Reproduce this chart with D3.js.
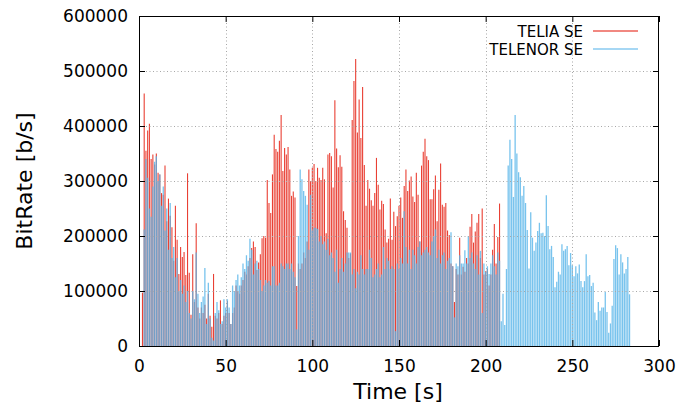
<!DOCTYPE html>
<html>
<head>
	<script src="https://d3js.org/d3.v7.min.js"></script>
	<style>
		body { margin: 0; background: #fff; }
		text { font-family: "DejaVu Sans", sans-serif; fill: #000; }
	</style>
</head>
<body>
	<script type="text/javascript">

		// bitrate samples, one per second, in kb/s (scaled to b/s below)
		var teliaStart = 2;
		var teliaSE = [97,459,355,392,404,340,348,330,350,315,312,278,275,328,227,268,237,216,155,255,
			193,131,180,162,171,129,314,133,57,167,80,223,70,50,70,60,75,50,95,55,
			35,131,55,50,60,83,40,55,60,82,60,40,60,70,110,100,95,110,120,135,
			130,145,160,178,190,180,138,152,167,196,200,197,302,260,242,312,384,358,353,373,
			420,318,360,348,362,321,273,281,270,109,150,140,150,170,160,190,321,300,324,331,
			300,324,306,302,324,303,205,348,351,345,288,447,359,325,347,326,245,229,215,160,
			168,411,482,522,388,448,378,471,329,255,302,286,265,255,278,342,293,248,264,258,
			212,188,195,268,193,244,218,236,255,270,233,291,321,282,301,308,272,262,315,275,
			190,328,353,377,345,338,267,267,285,310,227,284,332,257,253,260,210,202,150,145,
			80,140,130,197,130,144,135,160,150,217,240,188,208,224,240,160,250,130,136,140,
			110,130,175,222,150,198,259];

		var telenorStart = 3;
		var telenorSE = [212,340,306,250,235,290,335,345,300,312,255,290,210,250,175,260,160,180,125,160,
			100,120,95,110,80,100,60,50,100,85,170,95,60,80,90,142,40,115,50,15,
			10,60,80,65,40,45,85,70,85,70,40,110,100,120,130,110,125,150,140,165,
			155,195,175,130,150,155,140,120,100,110,120,115,118,110,145,145,110,110,115,150,
			145,140,150,150,140,150,135,125,30,200,321,303,282,273,257,175,275,210,215,215,
			213,190,200,185,190,175,195,165,170,160,135,175,115,140,160,135,150,170,170,170,
			130,140,105,135,130,165,140,130,140,140,175,160,125,130,140,150,125,130,180,140,
			160,155,140,145,140,27,150,140,160,150,245,180,150,175,140,175,165,150,180,190,
			165,170,175,180,170,165,190,200,212,160,175,150,165,170,140,155,160,207,145,52,
			150,145,165,150,150,174,150,200,160,170,150,140,165,130,173,60,150,135,145,131,
			150,165,145,130,170,155,45,95,38,140,328,375,340,271,420,350,316,307,273,291,
			260,211,141,243,197,173,188,209,224,205,206,200,274,218,176,182,162,107,117,135,
			130,185,173,176,182,147,169,147,127,145,132,148,118,107,118,167,127,129,109,115,
			61,47,80,64,70,70,98,62,24,41,73,158,183,178,130,167,152,132,140,162,94];

		var xTicks = [0, 50, 100, 150, 200, 250, 300];
		var yTicks = [0, 100000, 200000, 300000, 400000, 500000, 600000];
		var seriesNames = ["TELIA SE", "TELENOR SE"];
		var seriesColors = ["#e51e10", "#56b4e9"];

		var w = 680, h = 407;
		var plotL = 139, plotT = 16, plotR = 659, plotB = 346;

		var svg = d3.select("body").append("svg")
			.attr("width", w)
			.attr("height", h);

		var xScale = d3.scaleLinear().domain([0, 300]).range([plotL, plotR]);
		var yScale = d3.scaleLinear().domain([0, 600000]).range([plotB, plotT]);

		function toPoints(values, start) {
			return values.map(function (v, i) { return [start + i, v * 1000]; });
		}

		var series = [toPoints(teliaSE, teliaStart), toPoints(telenorSE, telenorStart)];

		// impulses, telia first so telenor sits on top
		series.forEach(function (pts, k) {
			svg.append("g")
				.attr("stroke-opacity", k == 1 ? 0.8 : 0.85)
				.selectAll("line")
				.data(pts)
				.enter()
				.append("line")
				.attr("x1", function (d) { return xScale(d[0]); })
				.attr("x2", function (d) { return xScale(d[0]); })
				.attr("y1", yScale(0))
				.attr("y2", function (d) { return yScale(d[1]); })
				.attr("stroke", seriesColors[k])
				.attr("stroke-width", k == 1 ? 1.3 : 1.1);
		});

		// dotted grid
		var grid = svg.append("g")
			.attr("stroke", "#a8a8a8")
			.attr("stroke-width", 1)
			.attr("stroke-dasharray", "1,2.5");
		grid.selectAll(".gx")
			.data(xTicks.slice(1, -1))
			.enter().append("line")
			.attr("x1", function (d) { return Math.round(xScale(d)) + 0.5; })
			.attr("x2", function (d) { return Math.round(xScale(d)) + 0.5; })
			.attr("y1", plotT)
			.attr("y2", plotB);
		grid.selectAll(".gy")
			.data(yTicks.slice(1, -1))
			.enter().append("line")
			.attr("y1", function (d) { return Math.round(yScale(d)) + 0.5; })
			.attr("y2", function (d) { return Math.round(yScale(d)) + 0.5; })
			.attr("x1", plotL)
			.attr("x2", plotR);

		// axes with inward ticks, mirrored on top and right
		svg.append("g")
			.attr("transform", "translate(0," + plotB + ")")
			.call(d3.axisBottom(xScale).tickValues(xTicks).tickSize(-6).tickPadding(14));
		svg.append("g")
			.attr("transform", "translate(0," + plotT + ")")
			.call(d3.axisTop(xScale).tickValues(xTicks).tickSize(-6).tickFormat(""));
		svg.append("g")
			.attr("transform", "translate(" + plotL + ",0)")
			.call(d3.axisLeft(yScale).tickValues(yTicks).tickSize(-6).tickPadding(11).tickFormat(d3.format("d")));
		svg.append("g")
			.attr("transform", "translate(" + plotR + ",0)")
			.call(d3.axisRight(yScale).tickValues(yTicks).tickSize(-6).tickFormat(""));

		svg.selectAll(".domain").remove();
		svg.selectAll(".tick line").attr("stroke", "#000");
		svg.selectAll(".tick text")
			.style("font-family", "DejaVu Sans")
			.style("font-size", "17px")
			.attr("fill", "#000");

		svg.append("rect")
			.attr("x", plotL + 0.5)
			.attr("y", plotT + 0.5)
			.attr("width", plotR - plotL - 1)
			.attr("height", plotB - plotT)
			.attr("fill", "none")
			.attr("stroke", "#000")
			.attr("stroke-width", 1);

		// axis titles
		svg.append("text")
			.attr("x", 398)
			.attr("y", 399)
			.attr("text-anchor", "middle")
			.style("font-size", "22px")
			.text("Time [s]");

		svg.append("text")
			.attr("transform", "translate(32,181) rotate(-90)")
			.attr("text-anchor", "middle")
			.style("font-size", "22px")
			.text("BitRate [b/s]");

		// legend
		var legend = svg.append("g");
		seriesNames.forEach(function (name, k) {
			var ly = 31 + k * 18;
			legend.append("text")
				.attr("x", 583)
				.attr("y", ly + 5.5)
				.attr("text-anchor", "end")
				.style("font-size", "15px")
				.text(name);
			legend.append("line")
				.attr("x1", 593)
				.attr("x2", 638)
				.attr("y1", ly)
				.attr("y2", ly)
				.attr("stroke", seriesColors[k])
				.attr("stroke-opacity", 0.7)
				.attr("stroke-width", 1.5);
		});

	</script>
</body>
</html>
